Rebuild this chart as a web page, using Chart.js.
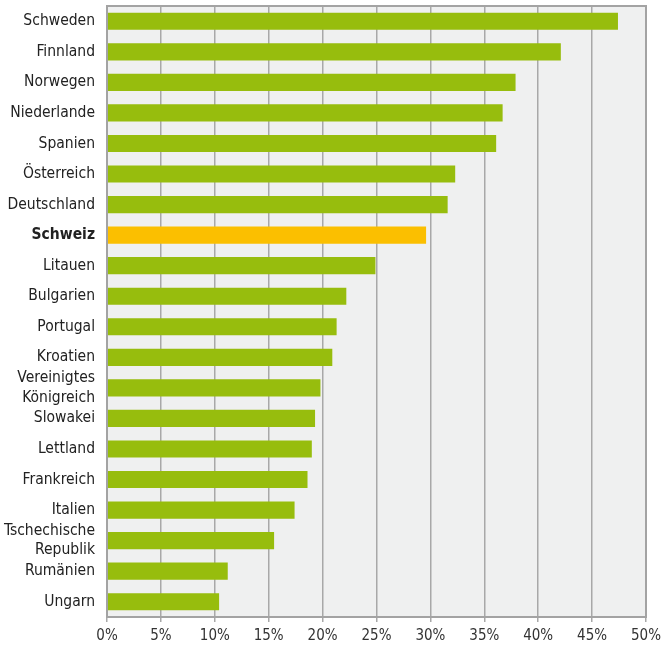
<!DOCTYPE html>
<html lang="de">
<head>
    <meta charset="UTF-8">
    <title>Anteil nach Land</title>
    <script src="https://cdn.jsdelivr.net/npm/chart.js"></script>
    <style>
        html, body { margin: 0; padding: 0; background: #fff; }
        #wrap { width: 669px; height: 649px; }
    </style>
</head>
<body>
    <div id="wrap">
        <canvas id="myChart" width="669" height="649"></canvas>
    </div>

    <script>
        const countries = [
            "Schweden", "Finnland", "Norwegen", "Niederlande", "Spanien", "Österreich",
            "Deutschland", "Schweiz", "Litauen", "Bulgarien", "Portugal", "Kroatien",
            ["Vereinigtes", "Königreich"], "Slowakei", "Lettland", "Frankreich", "Italien",
            ["Tschechische", "Republik"], "Rumänien", "Ungarn"
        ];
        const shares = [
            47.4, 42.1, 37.9, 36.7, 36.1, 32.3,
            31.6, 29.6, 24.9, 22.2, 21.3, 20.9,
            19.8, 19.3, 19.0, 18.6, 17.4,
            15.5, 11.2, 10.4
        ];
        const highlight = "Schweiz";
        const xTicks = [0, 5, 10, 15, 20, 25, 30, 35, 40, 45, 50];

        const green = "#97bd0d";
        const orange = "#fbbf00";
        const fontFamily = "'DejaVu Sans Condensed', 'Liberation Sans Narrow', sans-serif";

        const barColors = countries.map(c => c === highlight ? orange : green);

        // grauer Hintergrund und Rahmen des Diagrammbereichs
        const plotFrame = {
            id: 'plotFrame',
            beforeDraw(chart) {
                const { ctx, chartArea: a } = chart;
                ctx.save();
                ctx.fillStyle = '#eff0f0';
                ctx.fillRect(a.left, a.top, a.right - a.left, a.bottom - a.top);
                ctx.restore();
            },
            afterDatasetsDraw(chart) {
                const { ctx, chartArea: a } = chart;
                ctx.save();
                ctx.strokeStyle = '#a3a3a3';
                ctx.lineWidth = 2;
                ctx.strokeRect(a.left, a.top, a.right - a.left, a.bottom - a.top);
                ctx.restore();
            }
        };

        const ctx = document.getElementById('myChart').getContext('2d');
        new Chart(ctx, {
            type: 'bar',
            data: {
                labels: countries,
                datasets: [{
                    data: shares,
                    backgroundColor: barColors,
                    borderWidth: 0,
                    categoryPercentage: 1,
                    barPercentage: 0.56
                }]
            },
            plugins: [plotFrame],
            options: {
                indexAxis: 'y',
                responsive: false,
                animation: false,
                layout: { padding: { left: 2, right: 23, top: 6, bottom: 0 } },
                scales: {
                    x: {
                        min: 0,
                        max: 50,
                        afterBuildTicks: scale => {
                            scale.ticks = xTicks.map(v => ({ value: v }));
                        },
                        afterFit: scale => {
                            scale.height = 32;
                            scale.paddingLeft = 0;
                            scale.paddingRight = 0;
                        },
                        grid: {
                            color: '#a8a8a8',
                            lineWidth: 1.5,
                            tickLength: 5,
                            drawOnChartArea: true
                        },
                        border: { display: false },
                        ticks: {
                            color: '#333',
                            padding: 5,
                            maxRotation: 0,
                            font: { family: fontFamily, size: 15 },
                            callback: v => v + '%'
                        }
                    },
                    y: {
                        afterFit: scale => {
                            scale.width = 105;
                            scale.paddingTop = 0;
                            scale.paddingBottom = 0;
                        },
                        grid: { display: false },
                        border: { display: false },
                        ticks: {
                            color: '#222',
                            padding: 4,
                            autoSkip: false,
                            font: c => ({
                                family: fontFamily,
                                size: 15.5,
                                lineHeight: 1.25,
                                weight: countries[c.index] === highlight ? 'bold' : 'normal'
                            })
                        }
                    }
                },
                plugins: {
                    legend: { display: false },
                    tooltip: { enabled: false }
                }
            }
        });
    </script>
</body>
</html>
